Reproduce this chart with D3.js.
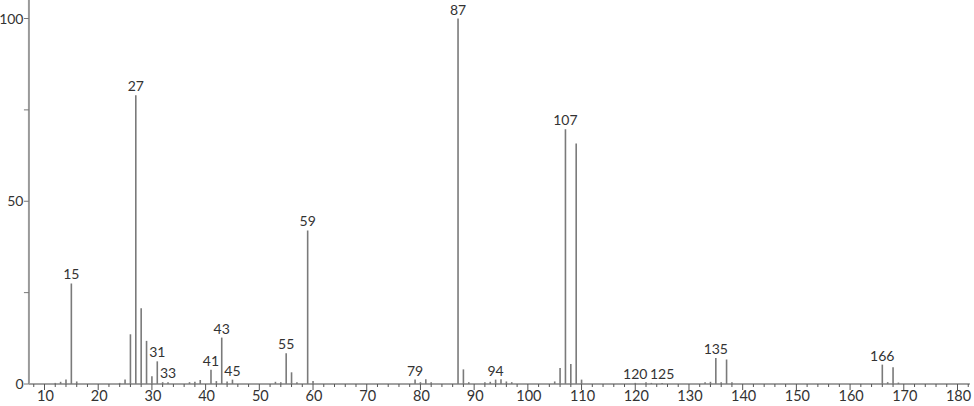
<!DOCTYPE html>
<html>
<head>
<meta charset="utf-8">
<script src="https://cdn.jsdelivr.net/npm/d3@7"></script>
<style>
  body { margin: 0; background: #fff; }
  text { font-family: Lato, "Open Sans", sans-serif; fill: #333; }
</style>
</head>
<body>
<div id="chart"></div>
<script>
// m/z values and relative intensities
var mz = [12, 13, 14, 15, 16, 24, 25, 26, 27, 28, 29, 30, 31, 32, 33, 37, 38, 39, 41, 42, 43, 44, 45,
          53, 54, 55, 56, 57, 59, 60, 79, 80, 81, 82, 87, 88, 89, 92, 93, 94, 95, 96, 97,
          105, 106, 107, 108, 109, 110, 120, 122, 123, 125, 133, 134, 135, 136, 137, 138,
          166, 167, 168, 169]
var intensity = [0.3, 0.6, 1.2, 27.5, 0.7, 0.3, 1.2, 13.6, 79, 20.7, 11.8, 2.1, 6.2, 0.5, 0.5, 0.5, 0.6, 1.1, 3.9, 0.8, 12.7, 0.7, 1.2,
          0.6, 0.5, 8.4, 3.2, 0.5, 42, 0.8, 1.2, 0.5, 1.3, 0.5, 100, 4, 0.5, 0.5, 0.6, 1.2, 1.3, 0.7, 0.5,
          0.7, 4.4, 69.7, 5.5, 65.8, 1.2, 0.3, 0.5, 0.3, 0.3, 0.5, 0.6, 7.1, 0.5, 6.7, 0.5,
          5.3, 0.5, 4.6, 0.4]
var labeled = [15, 27, 31, 33, 41, 43, 45, 55, 59, 79, 87, 94, 107, 120, 125, 135, 166]
var xTicks = [10, 20, 30, 40, 50, 60, 70, 80, 90, 100, 110, 120, 130, 140, 150, 160, 170, 180]
var yTicks = [0, 50, 100]

var width = 974
var height = 406
var svg = d3.select("#chart").append("svg")
    .attr("width", width)
    .attr("height", height)

var xMin = 7.1, xMax = 182.3
var x = d3.scaleLinear().domain([10, 180]).range([44.5, 957.5])
var y = d3.scaleLinear().domain([0, 100]).range([384, 18.5])

// x axis line + ticks
svg.append("line")
    .attr("x1", x(xMin)).attr("x2", x(xMax))
    .attr("y1", y(0)).attr("y2", y(0))
    .attr("stroke", "#444").attr("stroke-width", 1)

var minor = d3.range(8, 183, 2).filter(function(d) { return d % 10 != 0 })
svg.append("g").selectAll("line")
    .data(minor)
    .enter().append("line")
      .attr("x1", function(d) { return x(d) }).attr("x2", function(d) { return x(d) })
      .attr("y1", y(0)).attr("y2", y(0) + 3)
      .attr("stroke", "#555")

svg.append("g").selectAll("line")
    .data(xTicks)
    .enter().append("line")
      .attr("x1", function(d) { return x(d) }).attr("x2", function(d) { return x(d) })
      .attr("y1", y(0)).attr("y2", y(0) + 6)
      .attr("stroke", "#555")

svg.append("g").selectAll("text")
    .data(xTicks)
    .enter().append("text")
      .attr("x", function(d) { return x(d) + 1 })
      .attr("y", 401)
      .attr("text-anchor", "middle")
      .attr("font-size", 14.5)
      .text(function(d) { return d })

// y axis
svg.append("line")
    .attr("x1", x(xMin)).attr("x2", x(xMin))
    .attr("y1", y(0)).attr("y2", 0)
    .attr("stroke", "#999").attr("stroke-width", 2)

svg.append("g").selectAll("line")
    .data([0, 25, 50, 75, 100])
    .enter().append("line")
      .attr("x1", x(xMin) - 5).attr("x2", x(xMin))
      .attr("y1", function(d) { return y(d) }).attr("y2", function(d) { return y(d) })
      .attr("stroke", "#777")

svg.append("g").selectAll("text")
    .data(yTicks)
    .enter().append("text")
      .attr("x", 23.5)
      .attr("y", function(d) { return y(d) + 5 })
      .attr("text-anchor", "end")
      .attr("font-size", 14)
      .text(function(d) { return d })

// peaks
var peaks = mz.map(function(m, i) { return { mz: m, v: intensity[i] } })
svg.append("g").selectAll("line")
    .data(peaks)
    .enter().append("line")
      .attr("x1", function(d) { return x(d.mz) }).attr("x2", function(d) { return x(d.mz) })
      .attr("y1", y(0)).attr("y2", function(d) { return y(d.v) })
      .attr("stroke", "#7a7a7a").attr("stroke-width", 1.6)

svg.append("g").selectAll("text")
    .data(peaks.filter(function(d) { return labeled.indexOf(d.mz) >= 0 }))
    .enter().append("text")
      .attr("x", function(d) { return x(d.mz) })
      .attr("y", function(d) { return y(d.v) - 4 })
      .attr("text-anchor", "middle")
      .attr("font-size", 14)
      .text(function(d) { return d.mz })
</script>
</body>
</html>
